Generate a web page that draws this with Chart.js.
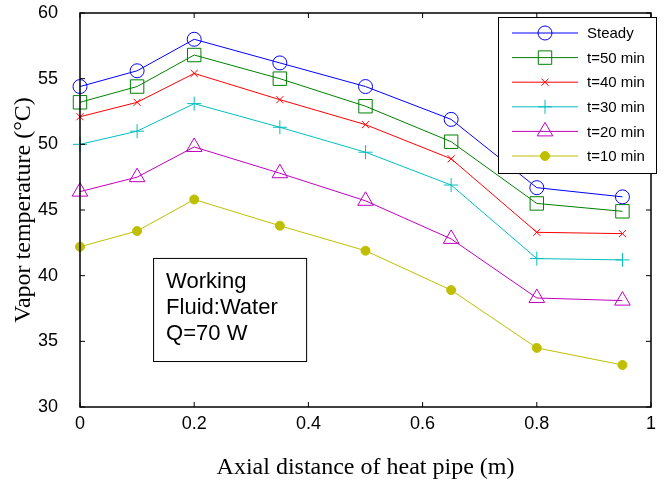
<!DOCTYPE html>
<html>
<head>
<meta charset="utf-8">
<script src="https://cdn.jsdelivr.net/npm/chart.js@4/dist/chart.umd.min.js"></script>
<style>
  html, body { margin: 0; padding: 0; background: #fff; }
  #wrap { width: 670px; height: 486px; }
</style>
</head>
<body>
<div id="wrap"><canvas id="chart"></canvas></div>
<script>
// Axial positions (m)
const distance = [0, 0.1, 0.2, 0.35, 0.5, 0.65, 0.8, 0.95];

// Vapor temperature (°C) for each run
const steady = [54.4, 55.6, 58.0, 56.2, 54.4, 51.9, 46.7, 46.0];
const t50 = [53.2, 54.4, 56.8, 55.0, 52.9, 50.2, 45.5, 44.9];
const t40 = [52.1, 53.2, 55.4, 53.4, 51.5, 48.9, 43.3, 43.2];
const t30 = [50.0, 51.0, 53.1, 51.3, 49.4, 46.9, 41.3, 41.2];
const t20 = [46.4, 47.5, 49.8, 47.8, 45.7, 42.8, 38.3, 38.1];
const t10 = [42.2, 43.4, 45.8, 43.8, 41.9, 38.9, 34.5, 33.2];

const seriesNames = ['Steady', 't=50 min', 't=40 min', 't=30 min', 't=20 min', 't=10 min'];
const xTicks = [0, 0.2, 0.4, 0.6, 0.8, 1];
const yTicks = [30, 35, 40, 45, 50, 55, 60];
const noteLines = ['Working', 'Fluid:Water', 'Q=70 W'];

const styles = [
    { color: '#0000ff', pointStyle: 'circle', radius: 7, fill: false },
    { color: '#008000', pointStyle: 'rect', radius: 9.5, fill: false },
    { color: '#ff0000', pointStyle: 'crossRot', radius: 5, fill: false },
    { color: '#00bfbf', pointStyle: 'cross', radius: 7, fill: false },
    { color: '#bf00bf', pointStyle: 'triangle', radius: 9, fill: false },
    { color: '#bfbf00', pointStyle: 'circle', radius: 4.5, fill: true }
];

const allSeries = [steady, t50, t40, t30, t20, t10];

const datasets = allSeries.map((vals, i) => ({
    label: seriesNames[i],
    data: vals.map((v, j) => ({ x: distance[j], y: v })),
    borderColor: styles[i].color,
    borderWidth: 1,
    pointStyle: styles[i].pointStyle,
    pointRadius: styles[i].radius,
    pointBorderColor: styles[i].color,
    pointBackgroundColor: styles[i].fill ? styles[i].color : 'rgba(0,0,0,0)',
    pointBorderWidth: 1,
    showLine: true,
    fill: false,
    clip: false,
    tension: 0
}));

// box frame with inward ticks, matlab style
const framePlugin = {
    id: 'frame',
    afterDatasetsDraw(chart) {
        const { ctx, chartArea: a, scales } = chart;
        ctx.save();
        ctx.strokeStyle = '#000';
        ctx.lineWidth = 1.5;
        ctx.strokeRect(a.left, a.top, a.right - a.left, a.bottom - a.top);
        ctx.lineWidth = 1;
        ctx.beginPath();
        xTicks.forEach(v => {
            const px = scales.x.getPixelForValue(v);
            ctx.moveTo(px, a.bottom); ctx.lineTo(px, a.bottom - 5);
            ctx.moveTo(px, a.top); ctx.lineTo(px, a.top + 5);
        });
        yTicks.forEach(v => {
            const py = scales.y.getPixelForValue(v);
            ctx.moveTo(a.left, py); ctx.lineTo(a.left + 5, py);
            ctx.moveTo(a.right, py); ctx.lineTo(a.right - 5, py);
        });
        ctx.stroke();
        ctx.restore();
    }
};

// text box in the lower left
const notePlugin = {
    id: 'note',
    afterDatasetsDraw(chart) {
        const { ctx, scales } = chart;
        const left = scales.x.getPixelForValue(0.128);
        const right = scales.x.getPixelForValue(0.396);
        const top = scales.y.getPixelForValue(41.35);
        const bottom = scales.y.getPixelForValue(33.5);
        ctx.save();
        ctx.fillStyle = '#fff';
        ctx.fillRect(left, top, right - left, bottom - top);
        ctx.strokeStyle = '#000';
        ctx.lineWidth = 1;
        ctx.strokeRect(left + 0.5, top + 0.5, right - left, bottom - top);
        ctx.fillStyle = '#000';
        ctx.font = '22px "Liberation Sans", Arial, sans-serif';
        ctx.textBaseline = 'alphabetic';
        noteLines.forEach((t, i) => ctx.fillText(t, left + 13, top + 30 + i * 26));
        ctx.restore();
    }
};

// legend box drawn inside the plot, top right
const legendPlugin = {
    id: 'boxLegend',
    afterDraw(chart) {
        const { ctx } = chart;
        const x0 = 498, y0 = 17, w = 158, h = 156;
        ctx.save();
        ctx.fillStyle = '#fff';
        ctx.fillRect(x0, y0, w, h);
        ctx.strokeStyle = '#000';
        ctx.lineWidth = 1;
        ctx.strokeRect(x0 + 0.5, y0 + 0.5, w, h);
        ctx.font = '15px "Liberation Sans", Arial, sans-serif';
        ctx.textBaseline = 'middle';
        chart.data.datasets.forEach((ds, i) => {
            const y = y0 + 16 + i * 24.6;
            ctx.strokeStyle = ds.borderColor;
            ctx.lineWidth = 1;
            ctx.beginPath();
            ctx.moveTo(x0 + 14, y); ctx.lineTo(x0 + 80, y);
            ctx.stroke();
            ctx.fillStyle = ds.pointBackgroundColor;
            Chart.helpers.drawPoint(ctx, {
                pointStyle: ds.pointStyle,
                radius: ds.pointRadius,
                rotation: 0,
                borderWidth: 1
            }, x0 + 47, y);
            ctx.fillStyle = '#000';
            ctx.fillText(ds.label, x0 + 89, y + 1);
        });
        ctx.restore();
    }
};

new Chart(document.getElementById('chart'), {
    type: 'line',
    data: { datasets },
    plugins: [framePlugin, notePlugin, legendPlugin],
    options: {
        responsive: true,
        maintainAspectRatio: false,
        animation: false,
        layout: { padding: { top: 13, right: 19, left: 0, bottom: 0 } },
        plugins: { legend: { display: false }, tooltip: { enabled: false } },
        scales: {
            x: {
                type: 'linear',
                min: 0, max: 1,
                afterFit: s => { s.height = 79; s.paddingLeft = 0; s.paddingRight = 0; },
                afterBuildTicks: s => { s.ticks = xTicks.map(v => ({ value: v })); },
                grid: { display: false, drawTicks: false },
                border: { display: false },
                ticks: {
                    color: '#000',
                    padding: 6,
                    font: { family: '"Liberation Sans", Arial, sans-serif', size: 18 },
                    callback: v => String(v)
                },
                title: {
                    display: true,
                    text: 'Axial distance of heat pipe (m)',
                    color: '#000',
                    font: { family: '"Liberation Serif", "Times New Roman", serif', size: 24 },
                    padding: { top: 0, bottom: 4 }
                }
            },
            y: {
                min: 30, max: 60,
                afterFit: s => { s.width = 80; s.paddingTop = 0; s.paddingBottom = 0; },
                afterBuildTicks: s => { s.ticks = yTicks.map(v => ({ value: v })); },
                grid: { display: false, drawTicks: false },
                border: { display: false },
                ticks: {
                    color: '#000',
                    padding: 22,
                    font: { family: '"Liberation Sans", Arial, sans-serif', size: 18 }
                },
                title: {
                    display: true,
                    text: 'Vapor temperature (°C)',
                    color: '#000',
                    font: { family: '"Liberation Serif", "Times New Roman", serif', size: 24 },
                    padding: { top: 9, bottom: 0 }
                }
            }
        }
    }
});
</script>
</body>
</html>
